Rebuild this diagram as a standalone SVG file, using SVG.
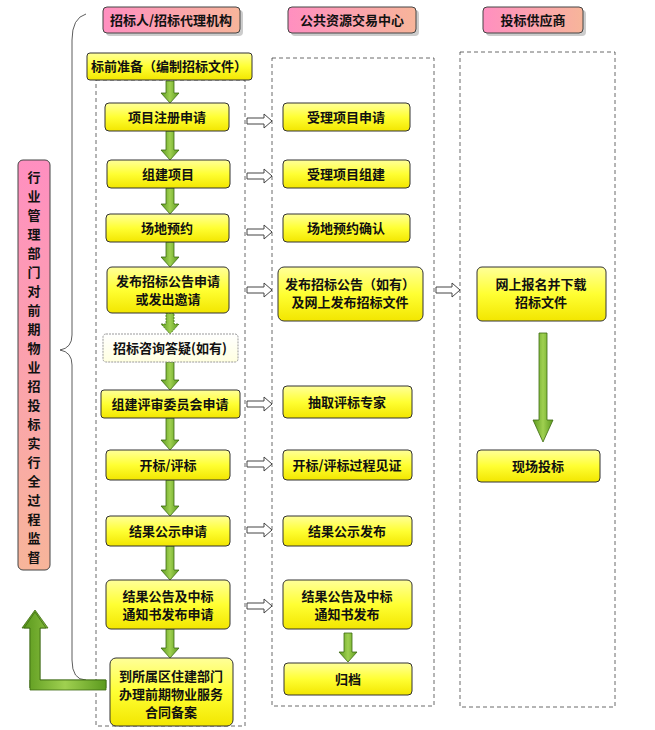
<svg xmlns="http://www.w3.org/2000/svg" width="655" height="730" viewBox="0 0 655 730">
<defs>
<linearGradient id="yg" x1="0" y1="0" x2="0" y2="1"><stop offset="0" stop-color="#ffff99"/><stop offset="0.5" stop-color="#ffff33"/><stop offset="1" stop-color="#f2e600"/></linearGradient>
<linearGradient id="pg" x1="0" y1="0" x2="1" y2="0"><stop offset="0" stop-color="#ff8fc0"/><stop offset="1" stop-color="#f7b59a"/></linearGradient>
<linearGradient id="pv" x1="0" y1="0" x2="0" y2="1"><stop offset="0" stop-color="#ff8fc0"/><stop offset="1" stop-color="#f7b59a"/></linearGradient>
<linearGradient id="wg" x1="0" y1="0" x2="0" y2="1"><stop offset="0" stop-color="#ffffff"/><stop offset="1" stop-color="#ffffe0"/></linearGradient>
<linearGradient id="gg" x1="0" y1="0" x2="1" y2="0"><stop offset="0" stop-color="#5c9a1e"/><stop offset="0.5" stop-color="#9fd050"/><stop offset="1" stop-color="#5c9a1e"/></linearGradient>
<linearGradient id="gh" x1="0" y1="0" x2="0" y2="1"><stop offset="0" stop-color="#5c9a1e"/><stop offset="0.5" stop-color="#9fd050"/><stop offset="1" stop-color="#5c9a1e"/></linearGradient>
</defs>
<style>
.b{fill:url(#yg);stroke:#333;stroke-width:1}
.h{fill:url(#pg);stroke:#444;stroke-width:1}
.d{fill:none;stroke:#444;stroke-width:0.8;stroke-dasharray:4 3}
.t{font-family:"Noto Sans CJK SC","Noto Sans",sans-serif;font-weight:bold;font-size:13px;fill:#111;text-anchor:middle}
.ga{fill:url(#gg);stroke:#3d6b12;stroke-width:0.8}
.ha{fill:#fff;stroke:#444;stroke-width:1}
</style>
<g id="columns">
<rect class="d" x="96" y="80" width="149" height="646"/>
<rect class="d" x="272" y="58" width="162" height="648"/>
<rect class="d" x="460" y="52" width="155" height="655"/>
</g>
<g id="headers">
<rect x="106" y="10" width="137" height="26" rx="4" fill="#999" opacity="0.5"/>
<rect class="h" x="103" y="7" width="137" height="26" rx="4"/><text class="t" x="171" y="25">招标人/招标代理机构</text>
<rect x="291" y="10" width="128" height="26" rx="4" fill="#999" opacity="0.5"/>
<rect class="h" x="288" y="7" width="128" height="26" rx="4"/><text class="t" x="352" y="25">公共资源交易中心</text>
<rect x="486" y="10" width="100" height="26" rx="4" fill="#999" opacity="0.5"/>
<rect class="h" x="483" y="7" width="100" height="26" rx="4"/><text class="t" x="533" y="25">投标供应商</text>
</g>
<g id="supervise">
<rect x="18" y="160" width="32" height="410" rx="5" fill="url(#pv)" stroke="#444"/>
<text class="t" x="34" y="182">行</text><text class="t" x="34" y="201">业</text><text class="t" x="34" y="220">管</text><text class="t" x="34" y="239">理</text><text class="t" x="34" y="258">部</text><text class="t" x="34" y="277">门</text><text class="t" x="34" y="296">对</text><text class="t" x="34" y="315">前</text><text class="t" x="34" y="334">期</text><text class="t" x="34" y="353">物</text><text class="t" x="34" y="372">业</text><text class="t" x="34" y="391">招</text><text class="t" x="34" y="410">投</text><text class="t" x="34" y="429">标</text><text class="t" x="34" y="448">实</text><text class="t" x="34" y="467">行</text><text class="t" x="34" y="486">全</text><text class="t" x="34" y="505">过</text><text class="t" x="34" y="524">程</text><text class="t" x="34" y="543">监</text><text class="t" x="34" y="562">督</text>
</g>
<g id="connectors">
<path d="M86,14 Q72,18 72,40 L72,335 Q72,348 60,350 Q72,352 72,365 L72,660 Q72,680 86,680" fill="none" stroke="#333" stroke-width="0.8"/>
<path class="ga" d="M106,680 L106,688 L40,688 L40,628 L48,628 L35,610 L22,628 L30,628 L30,688 L30,680 Z" transform="translate(0,0)"/>
<path class="ga" d="M106,680 L40,680 L40,628 L46,628 L35,612 L24,628 L30,628 L30,690 L106,690 Z"/>
<g id="downs">
<path class="ga" d="M166,81 L174,81 L174,93 L179,93 L170,103 L161,93 L166,93 Z"/>
<path class="ga" d="M166,131 L174,131 L174,150 L179,150 L170,160 L161,150 L166,150 Z"/>
<path class="ga" d="M166,188 L174,188 L174,204 L179,204 L170,214 L161,204 L166,204 Z"/>
<path class="ga" d="M166,242 L174,242 L174,257 L179,257 L170,267 L161,257 L166,257 Z"/>
<path class="ga" d="M166,313 L174,313 L174,324 L179,324 L170,334 L161,324 L166,324 Z" stroke-dasharray="2 1"/>
<path class="ga" d="M166,362 L174,362 L174,380 L179,380 L170,390 L161,380 L166,380 Z"/>
<path class="ga" d="M166,418 L174,418 L174,440 L179,440 L170,450 L161,440 L166,440 Z"/>
<path class="ga" d="M166,480 L174,480 L174,506 L179,506 L170,516 L161,506 L166,506 Z"/>
<path class="ga" d="M166,546 L174,546 L174,570 L179,570 L170,580 L161,570 L166,570 Z"/>
<path class="ga" d="M166,629 L174,629 L174,648 L179,648 L170,658 L161,648 L166,648 Z"/>
<path class="ga" d="M344,633 L352,633 L352,652 L357,652 L348,662 L339,652 L344,652 Z"/>
<path class="ga" d="M539,333 L547,333 L547,420 L553,420 L543,442 L533,420 L539,420 Z"/>
</g>
<g id="rights">
<path class="ha" d="M247,118 L264,118 L264,114 L272,121 L264,128 L264,124 L247,124 Z"/>
<path class="ha" d="M247,173 L264,173 L264,169 L272,176 L264,183 L264,179 L247,179 Z"/>
<path class="ha" d="M247,229 L264,229 L264,225 L272,232 L264,239 L264,235 L247,235 Z"/>
<path class="ha" d="M247,287 L264,287 L264,283 L272,290 L264,297 L264,293 L247,293 Z"/>
<path class="ha" d="M247,401 L264,401 L264,397 L272,404 L264,411 L264,407 L247,407 Z"/>
<path class="ha" d="M247,461 L264,461 L264,457 L272,464 L264,471 L264,467 L247,467 Z"/>
<path class="ha" d="M247,527 L264,527 L264,523 L272,530 L264,537 L264,533 L247,533 Z"/>
<path class="ha" d="M247,603 L264,603 L264,599 L272,606 L264,613 L264,609 L247,609 Z"/>
<path class="ha" d="M436,287 L452,287 L452,283 L460,290 L452,297 L452,293 L436,293 Z"/>
</g>
</g>
<g id="n1"><rect class="b" x="87" y="53" width="165" height="27" rx="3"/><text class="t" x="169" y="71">标前准备（编制招标文件）</text></g>
<g id="n2"><rect class="b" x="105" y="103" width="124" height="28" rx="4"/><text class="t" x="167" y="122">项目注册申请</text></g>
<g id="n3"><rect class="b" x="107" y="160" width="123" height="28" rx="4"/><text class="t" x="168" y="179">组建项目</text></g>
<g id="n4"><rect class="b" x="106" y="214" width="123" height="28" rx="4"/><text class="t" x="167" y="233">场地预约</text></g>
<g id="n5"><rect class="b" x="107" y="267" width="122" height="46" rx="5"/><text class="t" x="168" y="286">发布招标公告申请</text><text class="t" x="168" y="304">或发出邀请</text></g>
<g id="n6"><rect x="103" y="334" width="135" height="28" rx="3" fill="url(#wg)" stroke="#999" stroke-dasharray="2 1"/><text class="t" x="170" y="353">招标咨询答疑(如有)</text></g>
<g id="n7"><rect class="b" x="101" y="390" width="139" height="28" rx="3"/><text class="t" x="170" y="409">组建评审委员会申请</text></g>
<g id="n8"><rect class="b" x="106" y="450" width="124" height="30" rx="4"/><text class="t" x="168" y="470">开标/评标</text></g>
<g id="n9"><rect class="b" x="106" y="516" width="124" height="30" rx="4"/><text class="t" x="168" y="536">结果公示申请</text></g>
<g id="n10"><rect class="b" x="106" y="580" width="124" height="49" rx="5"/><text class="t" x="168" y="601">结果公告及中标</text><text class="t" x="168" y="619">通知书发布申请</text></g>
<g id="n11"><rect class="b" x="110" y="658" width="123" height="68" rx="6"/><text class="t" x="171" y="681">到所属区住建部门</text><text class="t" x="171" y="699">办理前期物业服务</text><text class="t" x="171" y="717">合同备案</text></g>
<g id="m1"><rect class="b" x="283" y="103" width="127" height="28" rx="4"/><text class="t" x="346" y="122">受理项目申请</text></g>
<g id="m2"><rect class="b" x="283" y="160" width="127" height="28" rx="4"/><text class="t" x="346" y="179">受理项目组建</text></g>
<g id="m3"><rect class="b" x="283" y="214" width="127" height="28" rx="4"/><text class="t" x="346" y="233">场地预约确认</text></g>
<g id="m4"><rect class="b" x="278" y="267" width="145" height="54" rx="6"/><text class="t" x="350" y="289">发布招标公告（如有）</text><text class="t" x="350" y="307">及网上发布招标文件</text></g>
<g id="m5"><rect class="b" x="283" y="386" width="129" height="32" rx="4"/><text class="t" x="347" y="407">抽取评标专家</text></g>
<g id="m6"><rect class="b" x="283" y="450" width="129" height="30" rx="4"/><text class="t" x="347" y="470">开标/评标过程见证</text></g>
<g id="m7"><rect class="b" x="283" y="516" width="129" height="30" rx="4"/><text class="t" x="347" y="536">结果公示发布</text></g>
<g id="m8"><rect class="b" x="283" y="580" width="129" height="49" rx="5"/><text class="t" x="347" y="601">结果公告及中标</text><text class="t" x="347" y="619">通知书发布</text></g>
<g id="m9"><rect class="b" x="284" y="663" width="128" height="32" rx="4"/><text class="t" x="348" y="684">归档</text></g>
<g id="r1"><rect class="b" x="477" y="267" width="129" height="54" rx="5"/><text class="t" x="541" y="289">网上报名并下载</text><text class="t" x="541" y="307">招标文件</text></g>
<g id="r2"><rect class="b" x="477" y="450" width="123" height="32" rx="4"/><text class="t" x="538" y="471">现场投标</text></g>
</svg>
